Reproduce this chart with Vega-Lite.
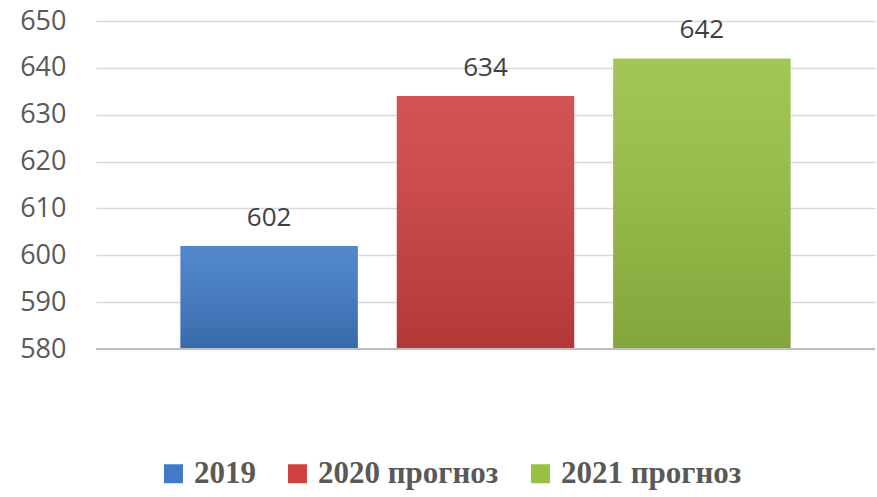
{
  "$schema": "https://vega.github.io/schema/vega-lite/v6.json",
  "autosize": "none",
  "width": 779,
  "height": 328,
  "padding": {"left": 96, "top": 21, "right": 2, "bottom": 148},
  "background": "white",
  "config": {"view": {"stroke": null}},
  "data": {"values": [
    {"series": "2019", "value": 602},
    {"series": "2020 прогноз", "value": 634},
    {"series": "2021 прогноз", "value": 642}
  ]},
  "encoding": {
    "x": {"field": "series", "type": "nominal", "sort": null,
      "scale": {"paddingInner": 0.18, "paddingOuter": 0.39},
      "axis": null},
    "y": {"field": "value", "type": "quantitative",
      "scale": {"domain": [580, 650], "nice": false, "zero": false},
      "axis": {"values": [580, 590, 600, 610, 620, 630, 640, 650], "title": null,
        "domain": false, "ticks": false, "labelPadding": 30,
        "labelFont": "Open Sans", "labelFontSize": 27, "labelColor": "#595959",
        "gridColor": "#d9d9d9", "gridWidth": 1.5}}
  },
  "layer": [
    {"mark": {"type": "bar", "clip": true},
      "encoding": {
        "y2": {"datum": 580},
        "color": {"field": "series", "type": "nominal", "sort": null,
          "scale": {"range": ["#3f7bc6", "#cf4040", "#98c043"]},
          "legend": {"orient": "none", "legendX": 62, "legendY": 437, "direction": "horizontal",
            "title": null, "symbolType": "square", "symbolSize": 361, "symbolStrokeWidth": 0,
            "labelFont": "Liberation Serif", "labelFontWeight": "bold", "labelFontSize": 31,
            "labelColor": "#595959", "columnPadding": 26, "labelOffset": 5, "labelLimit": 400}}
      }},
    {"mark": {"type": "bar", "clip": true,
        "fill": {"gradient": "linear", "x1": 0, "y1": 0, "x2": 0, "y2": 1,
          "stops": [{"offset": 0, "color": "rgba(255,255,255,0.10)"}, {"offset": 1, "color": "rgba(0,0,0,0.14)"}]}},
      "encoding": {"y2": {"datum": 580}}},
    {"mark": {"type": "rule", "color": "#bfbfbf", "strokeWidth": 2},
      "encoding": {"y": {"datum": 580}, "x": null}},
    {"mark": {"type": "text", "dy": -28, "font": "Open Sans", "fontSize": 26, "color": "#404040"},
      "encoding": {"text": {"field": "value", "type": "quantitative"}}}
  ]
}
